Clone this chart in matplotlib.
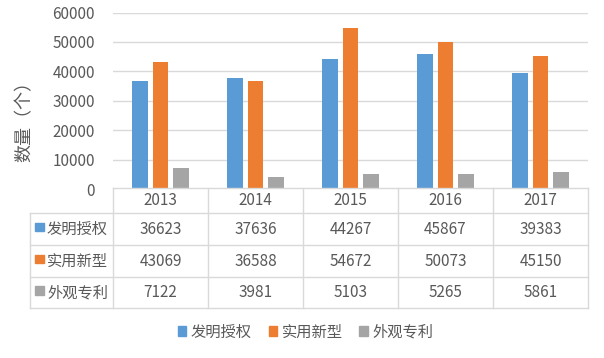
import numpy as np
import matplotlib
matplotlib.use("Agg")
import matplotlib.pyplot as plt
from matplotlib.patches import Patch, Rectangle

plt.rcParams['font.family'] = ['Noto Sans CJK SC', 'DejaVu Sans']

years = ['2013', '2014', '2015', '2016', '2017']
series_names = ['发明授权', '实用新型', '外观专利']
invention = [36623, 37636, 44267, 45867, 39383]
utility = [43069, 36588, 54672, 50073, 45150]
design = [7122, 3981, 5103, 5265, 5861]
colors = ['#5B9BD5', '#ED7D31', '#A5A5A5']

text_c = '#595959'
grid_c = '#D9D9D9'

W, H = 604, 358
fig = plt.figure(figsize=(W / 100, H / 100), dpi=100)

def box(l, t, r, b):
    return [l / W, 1 - b / H, (r - l) / W, (b - t) / H]

# bar chart
ax = fig.add_axes(box(113, 12.5, 588, 189))
x = np.arange(len(years))
all_vals = [invention, utility, design]
bw = 0.165
off = 0.215
for i, vals in enumerate(all_vals):
    ax.bar(x + (i - 1) * off, vals, bw, color=colors[i], zorder=3)
ax.set_xlim(-0.5, 4.5)
ax.set_ylim(0, 60000)
ax.set_yticks(range(0, 60001, 10000))
ax.set_xticks([])
ax.yaxis.grid(True, color=grid_c, linewidth=1)
ax.tick_params(axis='y', length=0, labelsize=11, labelcolor=text_c, pad=13)
for s in ax.spines.values():
    s.set_visible(False)

fig.text(25 / W, 1 - 117 / H, '数量（个）', rotation=90, fontsize=13,
         color=text_c, ha='center', va='center')

# data table underneath
tl = -0.5 - (113 - 30) / 95
axt = fig.add_axes(box(30, 188, 588, 308))
axt.set_xlim(tl, 4.5)
axt.set_ylim(120, 0)
axt.axis('off')
rows = [0, 25, 57, 89, 120]
lk = dict(color=grid_c, linewidth=1, clip_on=False)
axt.plot([-0.5, 4.5], [0, 0], **lk)
for r in rows[1:]:
    axt.plot([tl, 4.5], [r, r], **lk)
axt.plot([tl, tl], [25, 120], **lk)
for c in np.arange(-0.5, 5, 1.0):
    axt.plot([c, c], [0, 120], **lk)

for j, yr in enumerate(years):
    axt.text(j, 12.5, yr, ha='center', va='center', fontsize=11, color=text_c)
for i, vals in enumerate(all_vals):
    yc = (rows[i + 1] + rows[i + 2]) / 2
    for j, v in enumerate(vals):
        axt.text(j, yc, str(v), ha='center', va='center', fontsize=11, color=text_c)
    axt.add_patch(Rectangle((tl + 5 / 95, yc - 6.5), 8.5 / 95, 8.5,
                            color=colors[i], clip_on=False))
    axt.text(tl + 17 / 95, yc, series_names[i], ha='left', va='center',
             fontsize=11, color=text_c)

handles = [Patch(color=c, label=n) for c, n in zip(colors, series_names)]
fig.legend(handles=handles, loc='center', bbox_to_anchor=(0.506, 26 / H),
           ncol=3, frameon=False, fontsize=11, handlelength=0.55,
           handleheight=0.55, handletextpad=0.3, columnspacing=1.1,
           labelcolor=text_c)

fig.savefig('out.png', dpi=100)
